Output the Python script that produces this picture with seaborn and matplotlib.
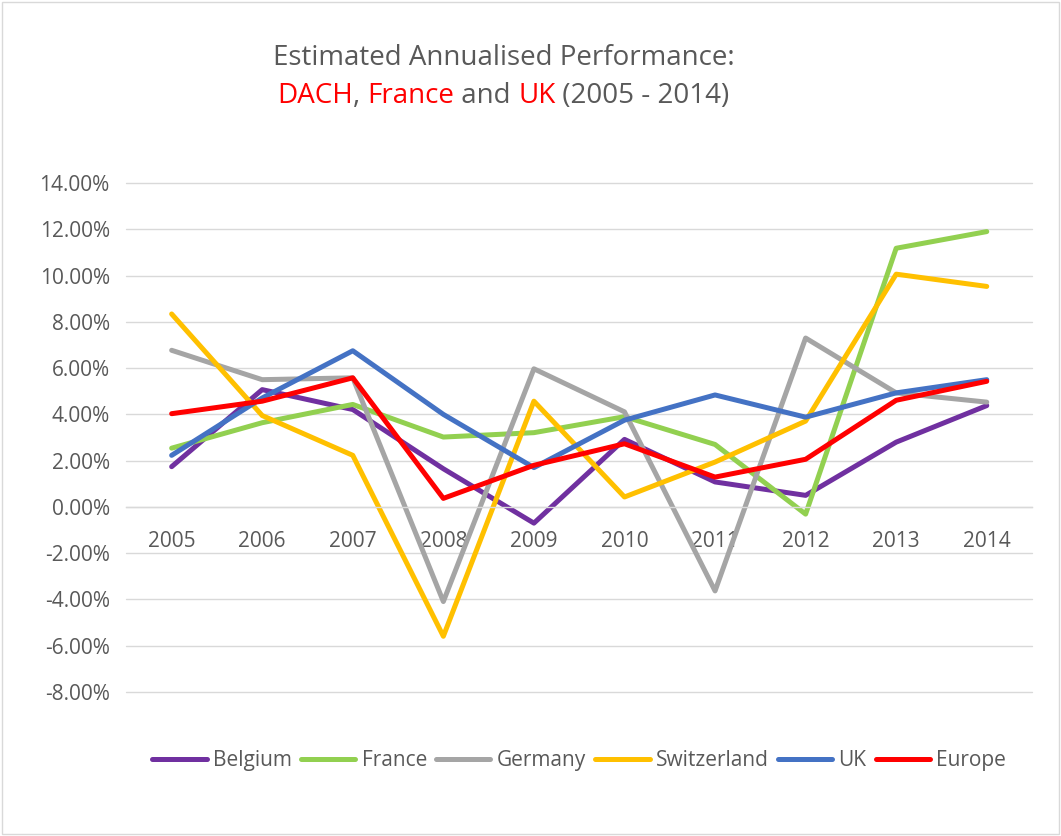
import matplotlib
matplotlib.use("Agg")
import matplotlib.pyplot as plt
import matplotlib.patches as mpatches
from matplotlib.ticker import FuncFormatter, MultipleLocator
import seaborn as sns
import pandas as pd

years = ["2005", "2006", "2007", "2008", "2009", "2010", "2011", "2012", "2013", "2014"]
belgium = [1.74, 5.07, 4.21, 1.65, -0.70, 2.92, 1.08, 0.50, 2.80, 4.38]
france = [2.54, 3.64, 4.43, 3.02, 3.21, 3.90, 2.70, -0.31, 11.18, 11.90]
germany = [6.77, 5.50, 5.58, -4.09, 5.97, 4.11, -3.63, 7.30, 4.93, 4.53]
switzerland = [8.34, 3.95, 2.23, -5.59, 4.57, 0.43, 1.94, 3.71, 10.06, 9.53]
uk = [2.23, 4.71, 6.75, 4.00, 1.70, 3.75, 4.84, 3.88, 4.93, 5.50]
europe = [4.03, 4.57, 5.58, 0.37, 1.80, 2.73, 1.29, 2.06, 4.61, 5.43]

series_names = ["Belgium", "France", "Germany", "Switzerland", "UK", "Europe"]
series_values = [belgium, france, germany, switzerland, uk, europe]
colors = ["#7030A0", "#92D050", "#A5A5A5", "#FFC000", "#4472C4", "#FF0000"]

rows = []
for name, vals in zip(series_names, series_values):
    for i, v in enumerate(vals):
        rows.append({"idx": i, "value": v, "series": name})
df = pd.DataFrame(rows)

sns.set_theme(style="white")
plt.rcParams["font.family"] = ["Open Sans", "DejaVu Sans"]
text_color = "#595959"

fig = plt.figure(figsize=(10.61, 8.36), dpi=100)
ax = fig.add_axes([0.1191, 0.1722, 0.8536, 0.6089])

sns.lineplot(data=df, x="idx", y="value", hue="series", hue_order=series_names,
             palette=colors, linewidth=3.6, ax=ax, legend=False,
             solid_capstyle="round", solid_joinstyle="round")

ax.set_xlim(-0.5, len(years) - 0.5)
ax.set_ylim(-8, 14)
ax.yaxis.set_major_locator(MultipleLocator(2))
ax.yaxis.set_major_formatter(FuncFormatter(lambda v, p: f"{v:.2f}%"))
ax.set_xticks(range(len(years)))
ax.set_xticklabels(years)
ax.set_xlabel("")
ax.set_ylabel("")
ax.grid(axis="y", color="#D9D9D9", linewidth=1.0)
for gl in ax.get_ygridlines():
    gl.set_clip_on(False)
ax.set_axisbelow(True)
for s in ["top", "right", "left"]:
    ax.spines[s].set_visible(False)
ax.spines["bottom"].set_position(("data", 0))
ax.spines["bottom"].set_color("#D9D9D9")
ax.spines["bottom"].set_linewidth(1.0)
ax.tick_params(axis="x", length=0, pad=17, labelsize=15, labelcolor=text_color)
ax.tick_params(axis="y", length=0, pad=12, labelsize=15, labelcolor=text_color)

handles = [plt.Line2D([], [], color=c, linewidth=3.6, solid_capstyle="round") for c in colors]
fig.legend(handles, series_names, loc="center", bbox_to_anchor=(0.546, 0.0905), ncol=6,
           frameon=False, fontsize=15, labelcolor=text_color, handlelength=2.6,
           handletextpad=0.3, columnspacing=0.45)

# Title
title_size = 20
cx = 0.4746
fig.text(cx, 1 - 65 / 836, "Estimated Annualised Performance:", ha="center", va="baseline",
         fontsize=title_size, color=text_color)

parts = [("DACH", "#FF0000"), (", ", text_color), ("France", "#FF0000"), (" and ", text_color),
         ("UK", "#FF0000"), (" (2005 - 2014)", text_color)]
fig.canvas.draw()
renderer = fig.canvas.get_renderer()
full = fig.text(0, 0, "".join(p[0] for p in parts), fontsize=title_size)
total = full.get_window_extent(renderer).width
full.remove()
figw = fig.get_figwidth() * fig.dpi
prefix = ""
for s, c in parts:
    off = 0
    if prefix:
        pt = fig.text(0, 0, prefix + "|", fontsize=title_size)
        bar = fig.text(0, 0, "|", fontsize=title_size)
        off = pt.get_window_extent(renderer).width - bar.get_window_extent(renderer).width
        pt.remove()
        bar.remove()
    fig.text((cx * figw - total / 2 + off) / figw, 1 - 103 / 836, s, ha="left", va="baseline",
             fontsize=title_size, color=c)
    prefix += s

border = mpatches.Rectangle((0.002, 0.002), 0.996, 0.996, transform=fig.transFigure,
                            fill=False, edgecolor="#D9D9D9", linewidth=1.0)
fig.patches.append(border)

fig.savefig("out.png", dpi=100)
